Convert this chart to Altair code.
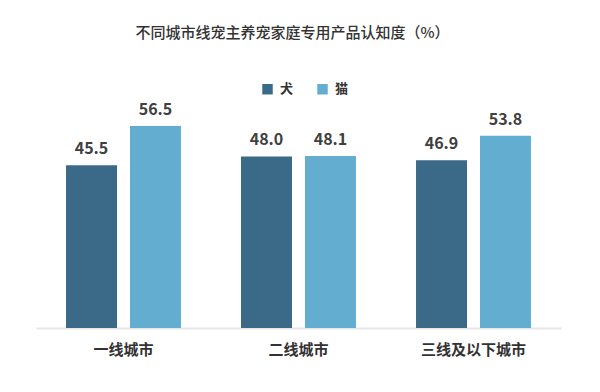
import altair as alt
import pandas as pd

cities = ["一线城市", "二线城市", "三线及以下城市"]
pets = ["犬", "猫"]
dog_values = [45.5, 48.0, 46.9]
cat_values = [56.5, 48.1, 53.8]

rows = []
for c, d, m in zip(cities, dog_values, cat_values):
    rows.append({"city": c, "pet": "犬", "value": d})
    rows.append({"city": c, "pet": "猫", "value": m})
df = pd.DataFrame(rows)

FONT = "Noto Sans CJK SC"
colors = ["#3b6a88", "#63aed0"]

x = alt.X("city:N", sort=cities, title=None,
          scale=alt.Scale(paddingInner=0.343, paddingOuter=0.1715),
          axis=alt.Axis(labelAngle=0, labelFontSize=15, labelFontWeight="bold",
                        labelColor="#333333", labelPadding=14, ticks=False,
                        domainColor="#e6e6e6", domainWidth=2, labelFont=FONT))
xo = alt.XOffset("pet:N", sort=pets, scale=alt.Scale(paddingInner=0.203, paddingOuter=0))
y = alt.Y("value:Q", scale=alt.Scale(domain=[0, 60], nice=False), axis=None)

bars = alt.Chart(df).mark_bar().encode(
    x=x, xOffset=xo, y=y,
    color=alt.Color("pet:N", sort=pets, scale=alt.Scale(domain=pets, range=colors),
                    legend=alt.Legend(title=None, orient="none", legendX=225, legendY=-31,
                                      direction="horizontal", symbolType="square",
                                      symbolSize=110, symbolStrokeWidth=0,
                                      labelFontSize=13, labelFontWeight="bold",
                                      labelColor="#333333", labelFont=FONT,
                                      columnPadding=22, labelOffset=6)),
)

labels = alt.Chart(df).mark_text(baseline="bottom", dy=-8, fontSize=16, fontWeight="bold",
                                 color="#404040", font=FONT).encode(
    x=x, xOffset=xo, y=y, text=alt.Text("value:Q", format=".1f"),
)

chart = (bars + labels).properties(
    width=525, height=214.5,
    title=alt.TitleParams("不同城市线宠主养宠家庭专用产品认知度（%）", fontSize=15,
                          fontWeight=500, color="#333333", font=FONT,
                          anchor="middle", offset=42, dx=-6),
    autosize=alt.AutoSizeParams(type="none"),
    padding={"left": 28, "top": 105.5, "right": 10, "bottom": 40},
).configure(background="white").configure_view(strokeWidth=0, stroke=None)

chart.save("out.html", embed_options={"renderer": "svg", "actions": False})
